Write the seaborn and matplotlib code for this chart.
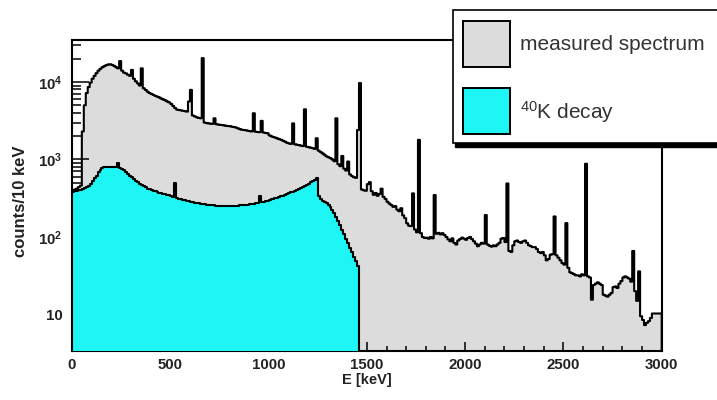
import numpy as np
import pandas as pd
import matplotlib
matplotlib.use("Agg")
import matplotlib.pyplot as plt
from matplotlib.patches import Rectangle
from matplotlib.ticker import (FixedLocator, FixedFormatter, MultipleLocator,
                               LogLocator, NullFormatter)
import seaborn as sns

# ---------------------------------------------------------------------------
# Gamma spectrum, 10 keV bins starting at 0 keV
# ---------------------------------------------------------------------------
bin_width = 10

measured_counts = [
    400, 410, 420, 440, 460, 2300, 5000, 7200, 8600, 9800,             # 0
    11000, 12000, 13000, 14000, 14800, 15500, 16000, 16500, 16800, 16900,  # 100
    16600, 16100, 15500, 15000, 18600, 14000, 13200, 12900, 12400, 12000,  # 200
    14300, 11000, 10200, 9600, 9000, 15000, 8300, 7900, 7500, 7200,    # 300
    7000, 6800, 6600, 6450, 6300, 6100, 5950, 5800, 5600, 5450,        # 400
    5200, 4900, 4600, 4400, 4350, 4300, 4250, 4200, 4150, 5600,        # 500
    7900, 3700, 3600, 3500, 3450, 3400, 20300, 3000, 2950, 2920,       # 600
    2900, 2880, 3400, 2850, 2820, 2800, 2780, 2750, 2720, 2700,        # 700
    2680, 2650, 2620, 2580, 2520, 2460, 2420, 2400, 2380, 2350,        # 800
    2320, 2300, 3950, 2280, 2260, 2250, 3150, 2230, 2200, 2180,        # 900
    2050, 1990, 1950, 1910, 1870, 1830, 1790, 1740, 1690, 1640,        # 1000
    1610, 1590, 2920, 1570, 1550, 1530, 1510, 1490, 4440, 1460,        # 1100
    1440, 1420, 1400, 1370, 1880, 1300, 1250, 1200, 1150, 1100,        # 1200
    1070, 1040, 1000, 950, 3400, 870, 820, 1110, 760, 720,             # 1300
    940, 640, 610, 590, 580, 2400, 9700, 410, 400, 395,                # 1400
    480, 510, 390, 350, 370, 340, 360, 420, 330, 310,                  # 1500
    285, 270, 258, 245, 250, 225, 215, 235, 190, 175,                  # 1600
    150, 140, 138, 365, 125, 115, 1790, 112, 100, 97,                  # 1700
    98, 95, 100, 96, 348, 110, 113, 108, 112, 106,                     # 1800
    100, 93, 88, 96, 84, 80, 90, 94, 98, 95,                           # 1900
    92, 97, 100, 94, 88, 82, 76, 80, 84, 82,                           # 2000
    192, 80, 77, 75, 78, 76, 80, 84, 95, 97,                           # 2100
    86, 490, 66, 64, 78, 88, 90, 86, 84, 88,                           # 2200
    90, 84, 78, 76, 74, 74, 70, 64, 62, 64,                            # 2300
    58, 50, 52, 59, 60, 184, 58, 54, 50, 46,                           # 2400
    44, 151, 40, 35, 34, 33, 32, 32, 31, 33,                           # 2500
    32, 880, 31, 30, 15.5, 24, 25, 26, 25, 24,                         # 2600
    18, 17.5, 17, 18, 19, 22.5, 23, 22, 25, 27,                        # 2700
    30, 31, 30, 29, 26.5, 66, 20, 15, 36, 9.5,                         # 2800
    8.5, 7.3, 7.8, 8.2, 9.0, 10.3, 10.3, 10.3, 10.3, 10.3,             # 2900
]

k40_counts = [
    385, 388, 392, 398, 404, 412, 425, 440, 458, 485,      # 0
    525, 570, 620, 680, 740, 780, 800, 805, 808, 810,      # 100
    808, 805, 800, 910, 780, 755, 730, 690, 650, 615,      # 200
    590, 560, 535, 510, 485, 465, 450, 435, 420, 410,      # 300
    402, 395, 388, 381, 374, 367, 361, 355, 349, 343,      # 400
    337, 331, 490, 318, 313, 308, 303, 298, 293, 288,      # 500
    284, 280, 277, 274, 271, 268, 265, 263, 261, 259,      # 600
    258, 256, 255, 254, 253, 252, 251, 251, 251, 251,      # 700
    251, 252, 252, 253, 254, 255, 256, 258, 260, 262,      # 800
    264, 267, 270, 273, 276, 340, 282, 286, 290, 295,      # 900
    300, 305, 310, 315, 320, 326, 333, 340, 348, 356,      # 1000
    365, 375, 385, 395, 405, 415, 428, 442, 456, 470,      # 1100
    488, 506, 525, 545, 575, 335, 310, 295, 285, 275,      # 1200
    262, 245, 225, 205, 182, 162, 142, 124, 108, 94,       # 1300
    83, 73, 64, 56, 49, 42,                                # 1400
]

y_ticks = [10, 100, 1000, 10000]
y_tick_labels = ["10", r"$\mathbf{10^{2}}$", r"$\mathbf{10^{3}}$",
                 r"$\mathbf{10^{4}}$"]
legend_labels = ["measured spectrum", r"$\mathregular{^{40}}$K decay"]

GRAY = "#dcdcdc"
CYAN = "#1ef6f6"

meas_edges = [i * bin_width for i in range(len(measured_counts) + 1)]
k40_edges = [i * bin_width for i in range(len(k40_counts) + 1)]
spectrum = pd.DataFrame({"E": [e + bin_width / 2 for e in meas_edges[:-1]],
                         "counts": measured_counts})
k40 = pd.DataFrame({"E": [e + bin_width / 2 for e in k40_edges[:-1]],
                    "counts": k40_counts})

sns.set_theme(style="white")
plt.rcParams["font.family"] = ["Liberation Sans", "DejaVu Sans"]
plt.rcParams["mathtext.fontset"] = "custom"
plt.rcParams["mathtext.rm"] = "Liberation Sans"
plt.rcParams["mathtext.bf"] = "Liberation Sans:bold"

W, H = 717, 400
fig = plt.figure(figsize=(W / 100, H / 100), dpi=100)
fig.patch.set_facecolor("white")


def fx(x):
    return x / W


def fy(y):
    return 1 - y / H


ax = fig.add_axes([fx(72), fy(351), (661.7 - 72) / W, (351 - 40) / H])
ax.set_facecolor("white")

sns.histplot(data=spectrum, x="E", weights="counts", bins=meas_edges,
             element="step", fill=True, facecolor=GRAY, edgecolor="black",
             linewidth=1.5, alpha=1, zorder=1, ax=ax)
sns.histplot(data=k40, x="E", weights="counts", bins=k40_edges,
             element="step", fill=True, facecolor=CYAN, edgecolor="black",
             linewidth=1.5, alpha=1, zorder=3, ax=ax)

ax.set_yscale("log")
ax.set_xlim(0, 3000)
ax.set_ylim(3.38, 34800)
ax.set_axisbelow(False)

for side in ["left", "right", "top", "bottom"]:
    ax.spines[side].set_visible(True)
    ax.spines[side].set_linewidth(1.5)
    ax.spines[side].set_color("black")

ax.xaxis.set_major_locator(MultipleLocator(500))
ax.xaxis.set_minor_locator(MultipleLocator(100))
ax.yaxis.set_major_locator(FixedLocator(y_ticks))
ax.yaxis.set_major_formatter(FixedFormatter(y_tick_labels))
ax.yaxis.set_minor_locator(LogLocator(base=10, subs=np.arange(2, 10), numticks=50))
ax.yaxis.set_minor_formatter(NullFormatter())

ax.tick_params(axis="x", which="major", direction="in", length=6.8, width=1.1,
               labelsize=10.8, pad=5, color="black", labelcolor="#222222",
               bottom=True, top=False)
ax.tick_params(axis="x", which="minor", direction="in", length=3.6, width=1.1,
               color="black", bottom=True, top=False)
ax.tick_params(axis="y", which="major", direction="in", length=12, width=1.1,
               labelsize=10.8, pad=7, color="black", labelcolor="#222222",
               left=True, right=False)
ax.tick_params(axis="y", which="minor", direction="in", length=6.5, width=1.1,
               color="black", left=True, right=False)
for lbl in ax.get_xticklabels() + ax.get_yticklabels():
    lbl.set_fontweight("bold")

ax.set_xlabel("E [keV]", fontsize=10.5, fontweight="bold", color="#222222")
ax.set_ylabel("counts/10 keV", fontsize=12, fontweight="bold", color="#222222")
ax.xaxis.set_label_coords(0.5, (351 - 373) / 311)
ax.yaxis.set_label_coords((28 - 72) / 589.7, (351 - 201) / 311)

# Legend box with a solid drop shadow
box_l, box_t, box_r, box_b = 453, 10.5, 730, 142.5
fig.add_artist(Rectangle((fx(box_l + 2), fy(box_b + 4)),
                         (box_r - box_l) / W, (box_b - box_t) / H,
                         transform=fig.transFigure, facecolor="black",
                         edgecolor="black", zorder=10))
fig.add_artist(Rectangle((fx(box_l), fy(box_b)),
                         (box_r - box_l) / W, (box_b - box_t) / H,
                         transform=fig.transFigure, facecolor="white",
                         edgecolor="black", linewidth=1.2, zorder=11))
for (top, bottom), color, label in zip([(20.7, 66.7), (88, 134)],
                                       [GRAY, CYAN], legend_labels):
    fig.add_artist(Rectangle((fx(463), fy(bottom)), 47 / W, (bottom - top) / H,
                             transform=fig.transFigure, facecolor=color,
                             edgecolor="black", linewidth=1.4, zorder=12))
    fig.text(fx(520), fy((top + bottom) / 2 + 1), label, fontsize=15,
             va="center", ha="left", color="#333333", zorder=13)

fig.savefig("out.png", dpi=100)
